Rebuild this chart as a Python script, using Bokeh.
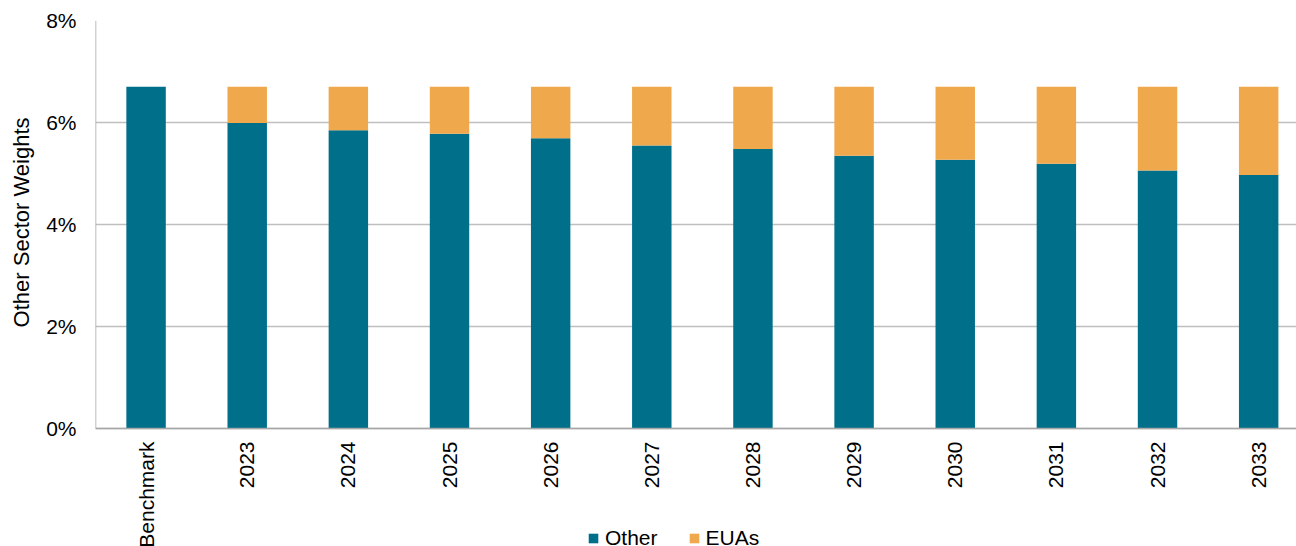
import math
from bokeh.plotting import figure
from bokeh.models import ColumnDataSource, Range1d, FixedTicker, PrintfTickFormatter, Title
from bokeh.core.properties import value
from bokeh.embed import file_html
from bokeh.resources import INLINE

categories = ["Benchmark", "2023", "2024", "2025", "2026", "2027", "2028",
              "2029", "2030", "2031", "2032", "2033"]
other = [6.70, 5.99, 5.85, 5.78, 5.69, 5.55, 5.48, 5.35, 5.27, 5.19, 5.06, 4.97]
total = [6.70] * 12
euas = [round(t - o, 2) for t, o in zip(total, other)]
y_ticks = [0, 2, 4, 6, 8]

FONT = "Liberation Sans"
TEAL = "#006F8A"
ORANGE = "#F0A84C"
AXIS_GRAY = "#A6A6A6"

H = 546
FRAME_TOP = 20
ZERO_PX = 428          # pixel row of the 0% line
PX_PER_UNIT = (ZERO_PX - FRAME_TOP) / 8.0
y_start = -(H - ZERO_PX) / PX_PER_UNIT
x_end = 11.374

x = list(range(len(categories)))
src = ColumnDataSource(dict(x=x, Other=other, EUAs=euas))
lab_src = ColumnDataSource(dict(x=x, y=[0] * len(x), text=categories))

p = figure(width=1296, height=H, output_backend="svg", toolbar_location=None,
           x_range=Range1d(-0.5, x_end), y_range=Range1d(y_start, 8),
           x_axis_location=None,
           min_border_left=95, min_border_right=0, min_border_top=FRAME_TOP,
           min_border_bottom=0)
p.outline_line_color = None

p.vbar_stack(["Other", "EUAs"], x="x", width=0.39, source=src,
             color=[TEAL, ORANGE], line_color=None,
             legend_label=["Other", "EUAs"])

# axis lines
p.segment(x0=[-0.5], y0=[0], x1=[x_end], y1=[0], line_color=AXIS_GRAY, line_width=1.5)
p.segment(x0=[-0.5], y0=[0], x1=[-0.5], y1=[8], line_color=AXIS_GRAY, line_width=1.5)

# category labels (rotated)
p.text(x="x", y="y", text="text", source=lab_src, angle=math.pi / 2,
       text_align="right", text_baseline="middle", y_offset=13,
       text_font=value(FONT), text_font_size="21px", text_color="#000000")

p.yaxis.ticker = FixedTicker(ticks=y_ticks)
p.yaxis.formatter = PrintfTickFormatter(format="%d%%")
p.yaxis.major_tick_line_color = None
p.yaxis.minor_tick_line_color = None
p.yaxis.axis_line_color = None
p.yaxis.major_label_standoff = 13
p.yaxis.major_label_text_font = FONT
p.yaxis.major_label_text_font_size = "21px"
p.yaxis.major_label_text_color = "#000000"

ylab = Title(text="Other Sector Weights", align="right", offset=97,
             vertical_align="top",
             text_font=FONT, text_font_size="22px", text_font_style="normal",
             text_color="#000000", standoff=16)
p.add_layout(ylab, "left")

p.xgrid.grid_line_color = None
p.ygrid.grid_line_color = "#BFBFBF"
p.ygrid.grid_line_width = 1.5

leg = p.legend[0]
leg.orientation = "horizontal"
leg.location = (492, -4)
leg.margin = 0
leg.padding = 0
leg.border_line_color = None
leg.background_fill_alpha = 0
leg.glyph_width = 12
leg.glyph_height = 12
leg.label_standoff = 6
leg.spacing = 30
leg.label_height = 16
leg.label_text_font = FONT
leg.label_text_font_size = "21px"
leg.label_text_color = "#000000"

open("out.html", "w").write(file_html(p, INLINE))
